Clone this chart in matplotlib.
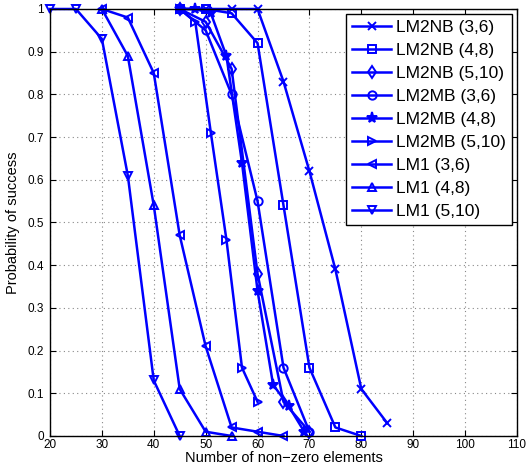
import matplotlib
matplotlib.use("Agg")
import matplotlib.pyplot as plt

plt.rcParams['font.family'] = ['Liberation Sans', 'DejaVu Sans']

# LM2NB curves
x_nb36 = [45, 50, 55, 60, 65, 70, 75, 80, 85]
y_nb36 = [1.0, 1.0, 1.0, 1.0, 0.83, 0.62, 0.39, 0.11, 0.03]
x_nb48 = [45, 50, 55, 60, 65, 70, 75, 80]
y_nb48 = [1.0, 1.0, 0.99, 0.92, 0.54, 0.16, 0.02, 0.0]
x_nb510 = [45, 50, 55, 60, 65, 70]
y_nb510 = [1.0, 0.97, 0.86, 0.38, 0.08, 0.01]

# LM2MB curves
x_mb36 = [45, 50, 55, 60, 65, 70]
y_mb36 = [1.0, 0.95, 0.80, 0.55, 0.16, 0.01]
x_mb48 = [45, 48, 51, 54, 57, 60, 63, 66, 69]
y_mb48 = [1.0, 1.0, 0.99, 0.89, 0.64, 0.34, 0.12, 0.07, 0.01]
x_mb510 = [45, 48, 51, 54, 57, 60]
y_mb510 = [1.0, 0.97, 0.71, 0.46, 0.16, 0.08]

# LM1 curves
x_lm36 = [30, 35, 40, 45, 50, 55, 60, 65]
y_lm36 = [1.0, 0.98, 0.85, 0.47, 0.21, 0.02, 0.01, 0.0]
x_lm48 = [30, 35, 40, 45, 50, 55]
y_lm48 = [1.0, 0.89, 0.54, 0.11, 0.01, 0.0]
x_lm510 = [20, 25, 30, 35, 40, 45]
y_lm510 = [1.0, 1.0, 0.93, 0.61, 0.13, 0.0]

series = [
    ("LM2NB (3,6)", x_nb36, y_nb36, "x"),
    ("LM2NB (4,8)", x_nb48, y_nb48, "s"),
    ("LM2NB (5,10)", x_nb510, y_nb510, "d"),
    ("LM2MB (3,6)", x_mb36, y_mb36, "o"),
    ("LM2MB (4,8)", x_mb48, y_mb48, "*"),
    ("LM2MB (5,10)", x_mb510, y_mb510, ">"),
    ("LM1 (3,6)", x_lm36, y_lm36, "<"),
    ("LM1 (4,8)", x_lm48, y_lm48, "^"),
    ("LM1 (5,10)", x_lm510, y_lm510, "v"),
]

fig = plt.figure(figsize=(5.3, 4.66), dpi=100)
ax = fig.add_axes([0.0943, 0.0644, 0.8812, 0.9163])

for name, xs, ys, mk in series:
    filled = mk == "*"
    ax.plot(xs, ys, color="blue", linewidth=1.8, marker=mk,
            markersize=8 if mk == "*" else 6,
            markerfacecolor="blue" if filled else "none",
            markeredgecolor="blue", markeredgewidth=1.4, label=name,
            clip_on=False)

ax.set_xlim(20, 110)
ax.set_ylim(0, 1)
ax.set_xticks(range(20, 111, 10))
ax.set_yticks([i / 10 for i in range(11)])
ax.set_yticklabels(["0"] + ["0.%d" % i for i in range(1, 10)] + ["1"])
ax.tick_params(direction="in", top=True, right=True, labelsize=8.5, length=4)
ax.tick_params(axis="x", pad=2.5)
ax.tick_params(axis="y", pad=4.5)
ax.grid(True, color="#888888", linestyle=(0, (1, 3)), linewidth=0.8)
for sp in ax.spines.values():
    sp.set_linewidth(1.0)

ax.set_xlabel("Number of non\u2212zero elements", fontsize=10.5, labelpad=0)
ax.set_ylabel("Probability of success", fontsize=10.5, labelpad=5)

leg = ax.legend(loc="upper right", fontsize=12.5, fancybox=False,
                edgecolor="black", framealpha=1, borderaxespad=0.3,
                handlelength=2.2, labelspacing=0.45, borderpad=0.35,
                handletextpad=0.3)
leg.get_frame().set_linewidth(1.0)

fig.savefig("out.png", dpi=100)
